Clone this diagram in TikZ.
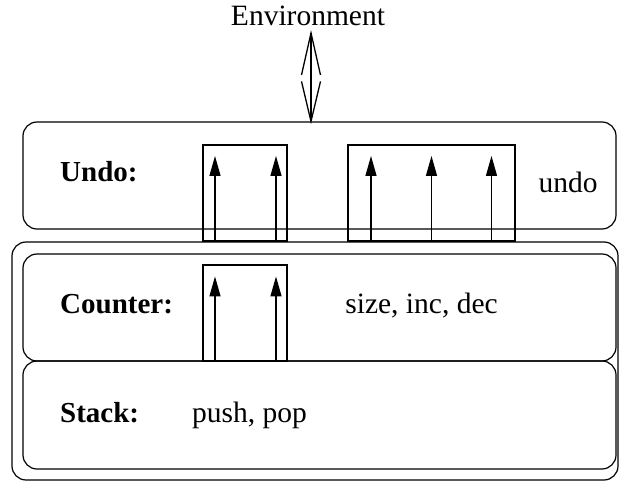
\documentclass[tikz,border=0pt]{standalone}
\usepackage{fontspec}
\setmainfont{Liberation Serif}
\usetikzlibrary{arrows.meta}
\begin{document}
\begin{tikzpicture}[x=1pt,y=-1pt,
  box/.style={draw, rounded corners=14pt, line width=1.2pt, inner sep=0pt},
  sbox/.style={draw, line width=1.1pt, inner sep=0pt},
  lbl/.style={font=\fontsize{29}{34}\selectfont\bfseries, anchor=base west, inner sep=0pt},
  txt/.style={font=\fontsize{29.5}{34}\selectfont, inner sep=0pt},
  up/.style={-{Triangle[length=20pt,width=11pt]}, line width=1.3pt},
  shaft/.style={line width=1.3pt, line join=miter}]
\useasboundingbox (0,0) rectangle (619,481);
% boxes
\node[box, minimum width=593pt, minimum height=107pt] (undo) at (319.5,175.5) {};
\node[box, minimum width=606pt, minimum height=238pt] (outer) at (315,361) {};
\node[box, minimum width=593pt, minimum height=107pt] (counter) at (319.5,307.5) {};
\node[box, minimum width=593pt, minimum height=108pt] (stack) at (319.5,415) {};
\node[sbox, minimum width=84pt, minimum height=96pt] (ua) at (245,193) {};
\node[sbox, minimum width=167pt, minimum height=96pt] (ub) at (431.5,193) {};
\node[sbox, minimum width=84pt, minimum height=96pt] (ca) at (245,313) {};
% texts
\node[txt, anchor=base] (env) at (308,26) {Environment};
\node[lbl] (tundo) at (60,181.5) {Undo:};
\node[txt, anchor=base] (tundo2) at (568,193) {undo};
\node[lbl] (tcounter) at (60,313) {Counter:};
\node[txt, anchor=base] (tops) at (421.5,313) {size, inc, dec};
\node[lbl] (tstack) at (60,422.5) {Stack:};
\node[txt, anchor=base west] (tpush) at (192,422.5) {push, pop};
% environment double arrow (open barbs)
\coordinate (envtip) at (311,33);
\coordinate (undotip) at (envtip |- undo.north);
\draw[shaft] (envtip) -- (undotip);
\draw[shaft] ([xshift=-9.5pt,yshift=-42pt]envtip) -- (envtip) -- ([xshift=9.5pt,yshift=-42pt]envtip);
\draw[shaft] ([xshift=-9.5pt,yshift=40pt]undotip) -- (undotip) -- ([xshift=9.5pt,yshift=40pt]undotip);
% arrow tips
\coordinate (a1) at (215,156);
\coordinate (a2) at (276,156);
\coordinate (b1) at (371,156);
\coordinate (b2) at (431.5,156);
\coordinate (b3) at (491.5,156);
\coordinate (c1) at (215,276.5);
\coordinate (c2) at (276,276.5);
\draw[up] (a1 |- ua.south) -- (a1);
\draw[up] (a2 |- ua.south) -- (a2);
\draw[up] (b1 |- ub.south) -- (b1);
\draw[up] (b2 |- ub.south) -- (b2);
\draw[up] (b3 |- ub.south) -- (b3);
\draw[up] (c1 |- ca.south) -- (c1);
\draw[up] (c2 |- ca.south) -- (c2);
\end{tikzpicture}
\end{document}
